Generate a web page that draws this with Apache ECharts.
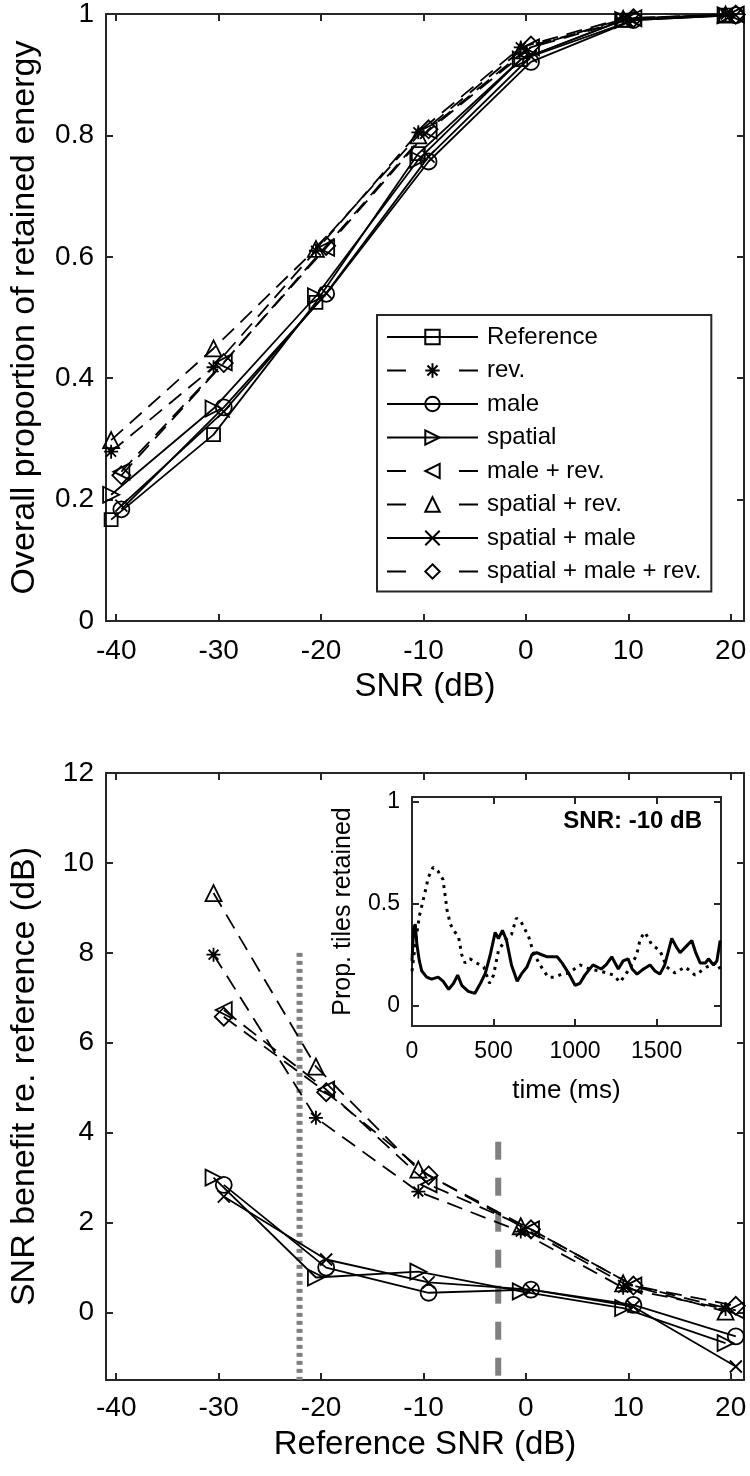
<!DOCTYPE html>
<html>
<head>
<meta charset="utf-8">
<script src="https://cdn.jsdelivr.net/npm/echarts@6/dist/echarts.min.js"></script>
<style>
  html, body { margin: 0; padding: 0; background: #fff; }
  #chart { width: 750px; height: 1476px; }
</style>
</head>
<body>
<div id="chart"></div>
<script>
// SNR conditions (dB)
var snrTop = [-40, -30, -20, -10, 0, 10, 20];
var snrBottom = [-30, -20, -10, 0, 10, 20];
var snrTicks = [-40, -30, -20, -10, 0, 10, 20];

var names = ['Reference', 'rev.', 'male', 'spatial', 'male + rev.', 'spatial + rev.', 'spatial + male', 'spatial + male + rev.'];
// small horizontal jitter of each condition, as plotted
var jitter = [-0.5, -0.5, 0.5, -0.5, 0.5, -0.5, 0.5, 0.5];

// top panel: overall proportion of retained energy
var energyRef = [0.167, 0.307, 0.525, 0.770, 0.925, 0.990, 0.998];
var energyRev = [0.279, 0.418, 0.610, 0.805, 0.945, 0.993, 0.999];
var energyMale = [0.184, 0.352, 0.539, 0.757, 0.921, 0.990, 0.998];
var energySpatial = [0.208, 0.350, 0.535, 0.760, 0.925, 0.990, 0.998];
var energyMaleRev = [0.246, 0.426, 0.615, 0.808, 0.945, 0.993, 0.999];
var energySpatialRev = [0.298, 0.449, 0.613, 0.800, 0.940, 0.992, 0.999];
var energySpatialMale = [0.190, 0.345, 0.540, 0.765, 0.930, 0.990, 0.998];
var energyAll = [0.240, 0.425, 0.618, 0.810, 0.948, 0.993, 0.999];

// bottom panel: SNR benefit re. reference (dB)
var benefitRev = [7.96, 4.33, 2.69, 1.80, 0.55, 0.08];
var benefitMale = [2.84, 1.00, 0.44, 0.51, 0.17, -0.53];
var benefitSpatial = [3.00, 0.78, 0.91, 0.47, 0.10, -0.68];
var benefitMaleRev = [6.73, 4.96, 2.85, 1.85, 0.60, 0.05];
var benefitSpatialRev = [9.33, 5.47, 3.18, 1.92, 0.65, 0.02];
var benefitSpatialMale = [2.58, 1.18, 0.67, 0.51, 0.13, -1.20];
var benefitAll = [6.58, 4.90, 3.05, 1.85, 0.60, 0.15];

// gray reference lines in bottom panel
var dottedX = -22.1, dottedTop = 8;
var dashedX = -2.7, dashedTop = 3.8;

// inset: proportion of tiles retained over time, SNR -10 dB
var tSolid = [0, 10, 20, 30, 45, 60, 90, 120, 160, 190, 225, 255, 280, 305, 345, 385, 420, 450, 480, 510, 530, 555, 580, 610, 645, 675, 705, 735, 765, 795, 830, 860, 890, 920, 960, 1000, 1030, 1060, 1110, 1160, 1190, 1225, 1265, 1295, 1325, 1350, 1380, 1420, 1460, 1490, 1520, 1550, 1570, 1593, 1620, 1644, 1680, 1716, 1740, 1767, 1800, 1818, 1849, 1870, 1890];
var vSolid = [0.22, 0.38, 0.40, 0.30, 0.22, 0.17, 0.14, 0.13, 0.14, 0.12, 0.08, 0.11, 0.15, 0.10, 0.07, 0.06, 0.11, 0.16, 0.25, 0.36, 0.33, 0.37, 0.32, 0.20, 0.12, 0.16, 0.19, 0.25, 0.26, 0.25, 0.24, 0.24, 0.24, 0.21, 0.16, 0.10, 0.11, 0.15, 0.20, 0.18, 0.20, 0.24, 0.18, 0.22, 0.23, 0.18, 0.155, 0.18, 0.20, 0.17, 0.155, 0.20, 0.26, 0.33, 0.29, 0.26, 0.29, 0.32, 0.26, 0.21, 0.21, 0.23, 0.20, 0.22, 0.32];
var tDotted = [0, 20, 45, 75, 100, 130, 160, 190, 205, 215, 235, 265, 285, 305, 325, 355, 395, 440, 475, 500, 530, 570, 610, 640, 670, 715, 745, 785, 835, 875, 920, 960, 1030, 1090, 1150, 1200, 1235, 1276, 1307, 1340, 1378, 1400, 1429, 1470, 1521, 1562, 1613, 1675, 1736, 1808, 1869, 1890];
var vDotted = [0.17, 0.30, 0.44, 0.54, 0.63, 0.68, 0.66, 0.62, 0.53, 0.47, 0.40, 0.36, 0.34, 0.25, 0.21, 0.23, 0.21, 0.19, 0.11, 0.15, 0.27, 0.32, 0.35, 0.43, 0.41, 0.34, 0.26, 0.20, 0.14, 0.14, 0.155, 0.16, 0.20, 0.18, 0.17, 0.16, 0.15, 0.115, 0.15, 0.19, 0.25, 0.33, 0.36, 0.30, 0.27, 0.19, 0.16, 0.19, 0.15, 0.19, 0.21, 0.18];

var FONT = 'Liberation Sans, Arial, Helvetica, sans-serif';
var AXIS = '#262626';

var markers = [
    {symbol: 'rect', size: 13},
    {symbol: 'path://M5,0 L5,10 M0,5 L10,5 M1.5,1.5 L8.5,8.5 M1.5,8.5 L8.5,1.5', size: 14},
    {symbol: 'circle', size: 16},
    {symbol: 'path://M0,0 L10,5 L0,10 Z', size: 16},
    {symbol: 'path://M10,0 L0,5 L10,10 Z', size: 16},
    {symbol: 'path://M5,0 L10,10 L0,10 Z', size: 16},
    {symbol: 'path://M0,0 L10,10 M0,10 L10,0', size: 12},
    {symbol: 'diamond', size: 18}
];
var dashed = [false, true, false, false, true, true, false, true];

function pairs(xs, ys, dx) {
    return xs.map(function (x, i) { return [x + (dx || 0), ys[i]]; });
}

function plain(v) { return String(+v.toFixed(2)); }

function xAxisFor(grid, min, max, ticks, top, fontSize, name, nameSize, nameGap, margin) {
    return {
        type: 'value', gridIndex: grid, min: min, max: max,
        position: top ? 'top' : 'bottom',
        name: top ? '' : name, nameLocation: 'middle', nameGap: nameGap,
        nameTextStyle: {fontFamily: FONT, fontSize: nameSize, color: '#000'},
        axisLine: {show: true, onZero: false, lineStyle: {color: AXIS, width: 2}},
        axisTick: {show: true, inside: true, length: 7, customValues: ticks, lineStyle: {color: AXIS, width: 2}},
        axisLabel: {show: !top, customValues: ticks, margin: margin, fontFamily: FONT, fontSize: fontSize, color: '#000', formatter: plain},
        splitLine: {show: false}
    };
}

function yAxisFor(grid, min, max, ticks, right, fontSize, name, nameSize, nameGap, margin) {
    return {
        type: 'value', gridIndex: grid, min: min, max: max,
        position: right ? 'right' : 'left',
        name: right ? '' : name, nameLocation: 'middle', nameGap: nameGap,
        nameTextStyle: {fontFamily: FONT, fontSize: nameSize, color: '#000'},
        axisLine: {show: true, onZero: false, lineStyle: {color: AXIS, width: 2}},
        axisTick: {show: true, inside: true, length: 7, customValues: ticks, lineStyle: {color: AXIS, width: 2}},
        axisLabel: {show: !right, customValues: ticks, margin: margin, fontFamily: FONT, fontSize: fontSize, color: '#000', formatter: plain},
        splitLine: {show: false}
    };
}

function condSeries(i, xs, ys, xi, yi) {
    return {
        name: names[i], type: 'line', xAxisIndex: xi, yAxisIndex: yi,
        data: pairs(xs, ys, jitter[i]),
        symbol: markers[i].symbol, symbolSize: markers[i].size, showAllSymbol: true,
        lineStyle: {color: '#000', width: 1.8, type: dashed[i] ? [16, 9] : 'solid'},
        itemStyle: {color: 'transparent', borderColor: '#000', borderWidth: 1.8},
        emphasis: {disabled: true}, animation: false, z: 3
    };
}

var energy = [energyRef, energyRev, energyMale, energySpatial, energyMaleRev, energySpatialRev, energySpatialMale, energyAll];
var benefit = [null, benefitRev, benefitMale, benefitSpatial, benefitMaleRev, benefitSpatialRev, benefitSpatialMale, benefitAll];

var series = [];
energy.forEach(function (ys, i) { series.push(condSeries(i, snrTop, ys, 0, 0)); });

// gray vertical markers behind the bottom data
series.push({
    type: 'line', xAxisIndex: 2, yAxisIndex: 2, data: [[dottedX, dottedTop], [dottedX, -1.5]],
    symbol: 'none', lineStyle: {color: '#808080', width: 6, type: [4, 4], cap: 'butt'}, z: 1, animation: false
});
series.push({
    type: 'line', xAxisIndex: 2, yAxisIndex: 2, data: [[dashedX, dashedTop], [dashedX, -1.5]],
    symbol: 'none', lineStyle: {color: '#808080', width: 6, type: [18, 18], cap: 'butt'}, z: 1, animation: false
});
benefit.forEach(function (ys, i) { if (ys) series.push(condSeries(i, snrBottom, ys, 2, 2)); });

// inset traces
series.push({
    type: 'line', xAxisIndex: 4, yAxisIndex: 4, data: pairs(tSolid, vSolid),
    symbol: 'none', lineStyle: {color: '#000', width: 3}, z: 5, animation: false
});
series.push({
    type: 'line', xAxisIndex: 4, yAxisIndex: 4, data: pairs(tDotted, vDotted),
    symbol: 'none', lineStyle: {color: '#000', width: 3, type: [3, 5], cap: 'butt'}, z: 5, animation: false
});

// legend entries: dashed ones show a single dash on each side of the marker
var legendData = names.map(function (n, i) {
    return dashed[i] ? {name: n, lineStyle: {type: [19, 53]}} : {name: n};
});

var chart = echarts.init(document.getElementById('chart'));
chart.setOption({
    backgroundColor: '#fff',
    animation: false,
    grid: [
        {left: 102, top: 13, width: 642, height: 608},
        {left: 102, top: 773, width: 642, height: 607},
        {left: 412, top: 797, width: 309, height: 229, show: true, backgroundColor: '#fff', borderWidth: 0, z: 4}
    ],
    xAxis: [
        xAxisFor(0, -41, 21.3, snrTicks, false, 28, 'SNR (dB)', 33, 49, 16),
        xAxisFor(0, -41, 21.3, snrTicks, true, 28),
        xAxisFor(1, -41, 21.3, snrTicks, false, 28, 'Reference SNR (dB)', 33, 48, 14),
        xAxisFor(1, -41, 21.3, snrTicks, true, 28),
        Object.assign(xAxisFor(2, 0, 1895, [0, 500, 1000, 1500], false, 23, 'time (ms)', 26, 52, 14), {z: 5}),
        Object.assign(xAxisFor(2, 0, 1895, [0, 500, 1000, 1500], true, 23), {z: 5})
    ],
    yAxis: [
        yAxisFor(0, 0, 1, [0, 0.2, 0.4, 0.6, 0.8, 1], false, 28, 'Overall proportion of retained energy', 34, 64, 12),
        yAxisFor(0, 0, 1, [0, 0.2, 0.4, 0.6, 0.8, 1], true, 28),
        yAxisFor(1, -1.5, 12, [0, 2, 4, 6, 8, 10, 12], false, 28, 'SNR benefit re. reference (dB)', 34, 64, 12),
        yAxisFor(1, -1.5, 12, [0, 2, 4, 6, 8, 10, 12], true, 28),
        Object.assign(yAxisFor(2, -0.1, 1.025, [0, 0.5, 1], false, 23, 'Prop. tiles retained', 25, 56, 12), {z: 5}),
        Object.assign(yAxisFor(2, -0.1, 1.025, [0, 0.5, 1], true, 23), {z: 5})
    ],
    legend: {
        data: legendData, orient: 'vertical', left: 377, top: 315,
        itemWidth: 91, itemHeight: 18, itemGap: 9.5,
        padding: [10, 10, 8, 9],
        backgroundColor: '#fff', borderColor: AXIS, borderWidth: 2,
        textStyle: {fontFamily: FONT, fontSize: 24, lineHeight: 24, color: '#000', padding: [0, 0, 0, 4]},
        selectedMode: false, z: 10
    },
    graphic: [{
        type: 'text', right: 750 - 702, top: 809, z: 20,
        style: {text: 'SNR: -10 dB', fontFamily: FONT, fontSize: 24, fontWeight: 'bold', fill: '#000'}
    }],
    series: series
});
</script>
</body>
</html>
